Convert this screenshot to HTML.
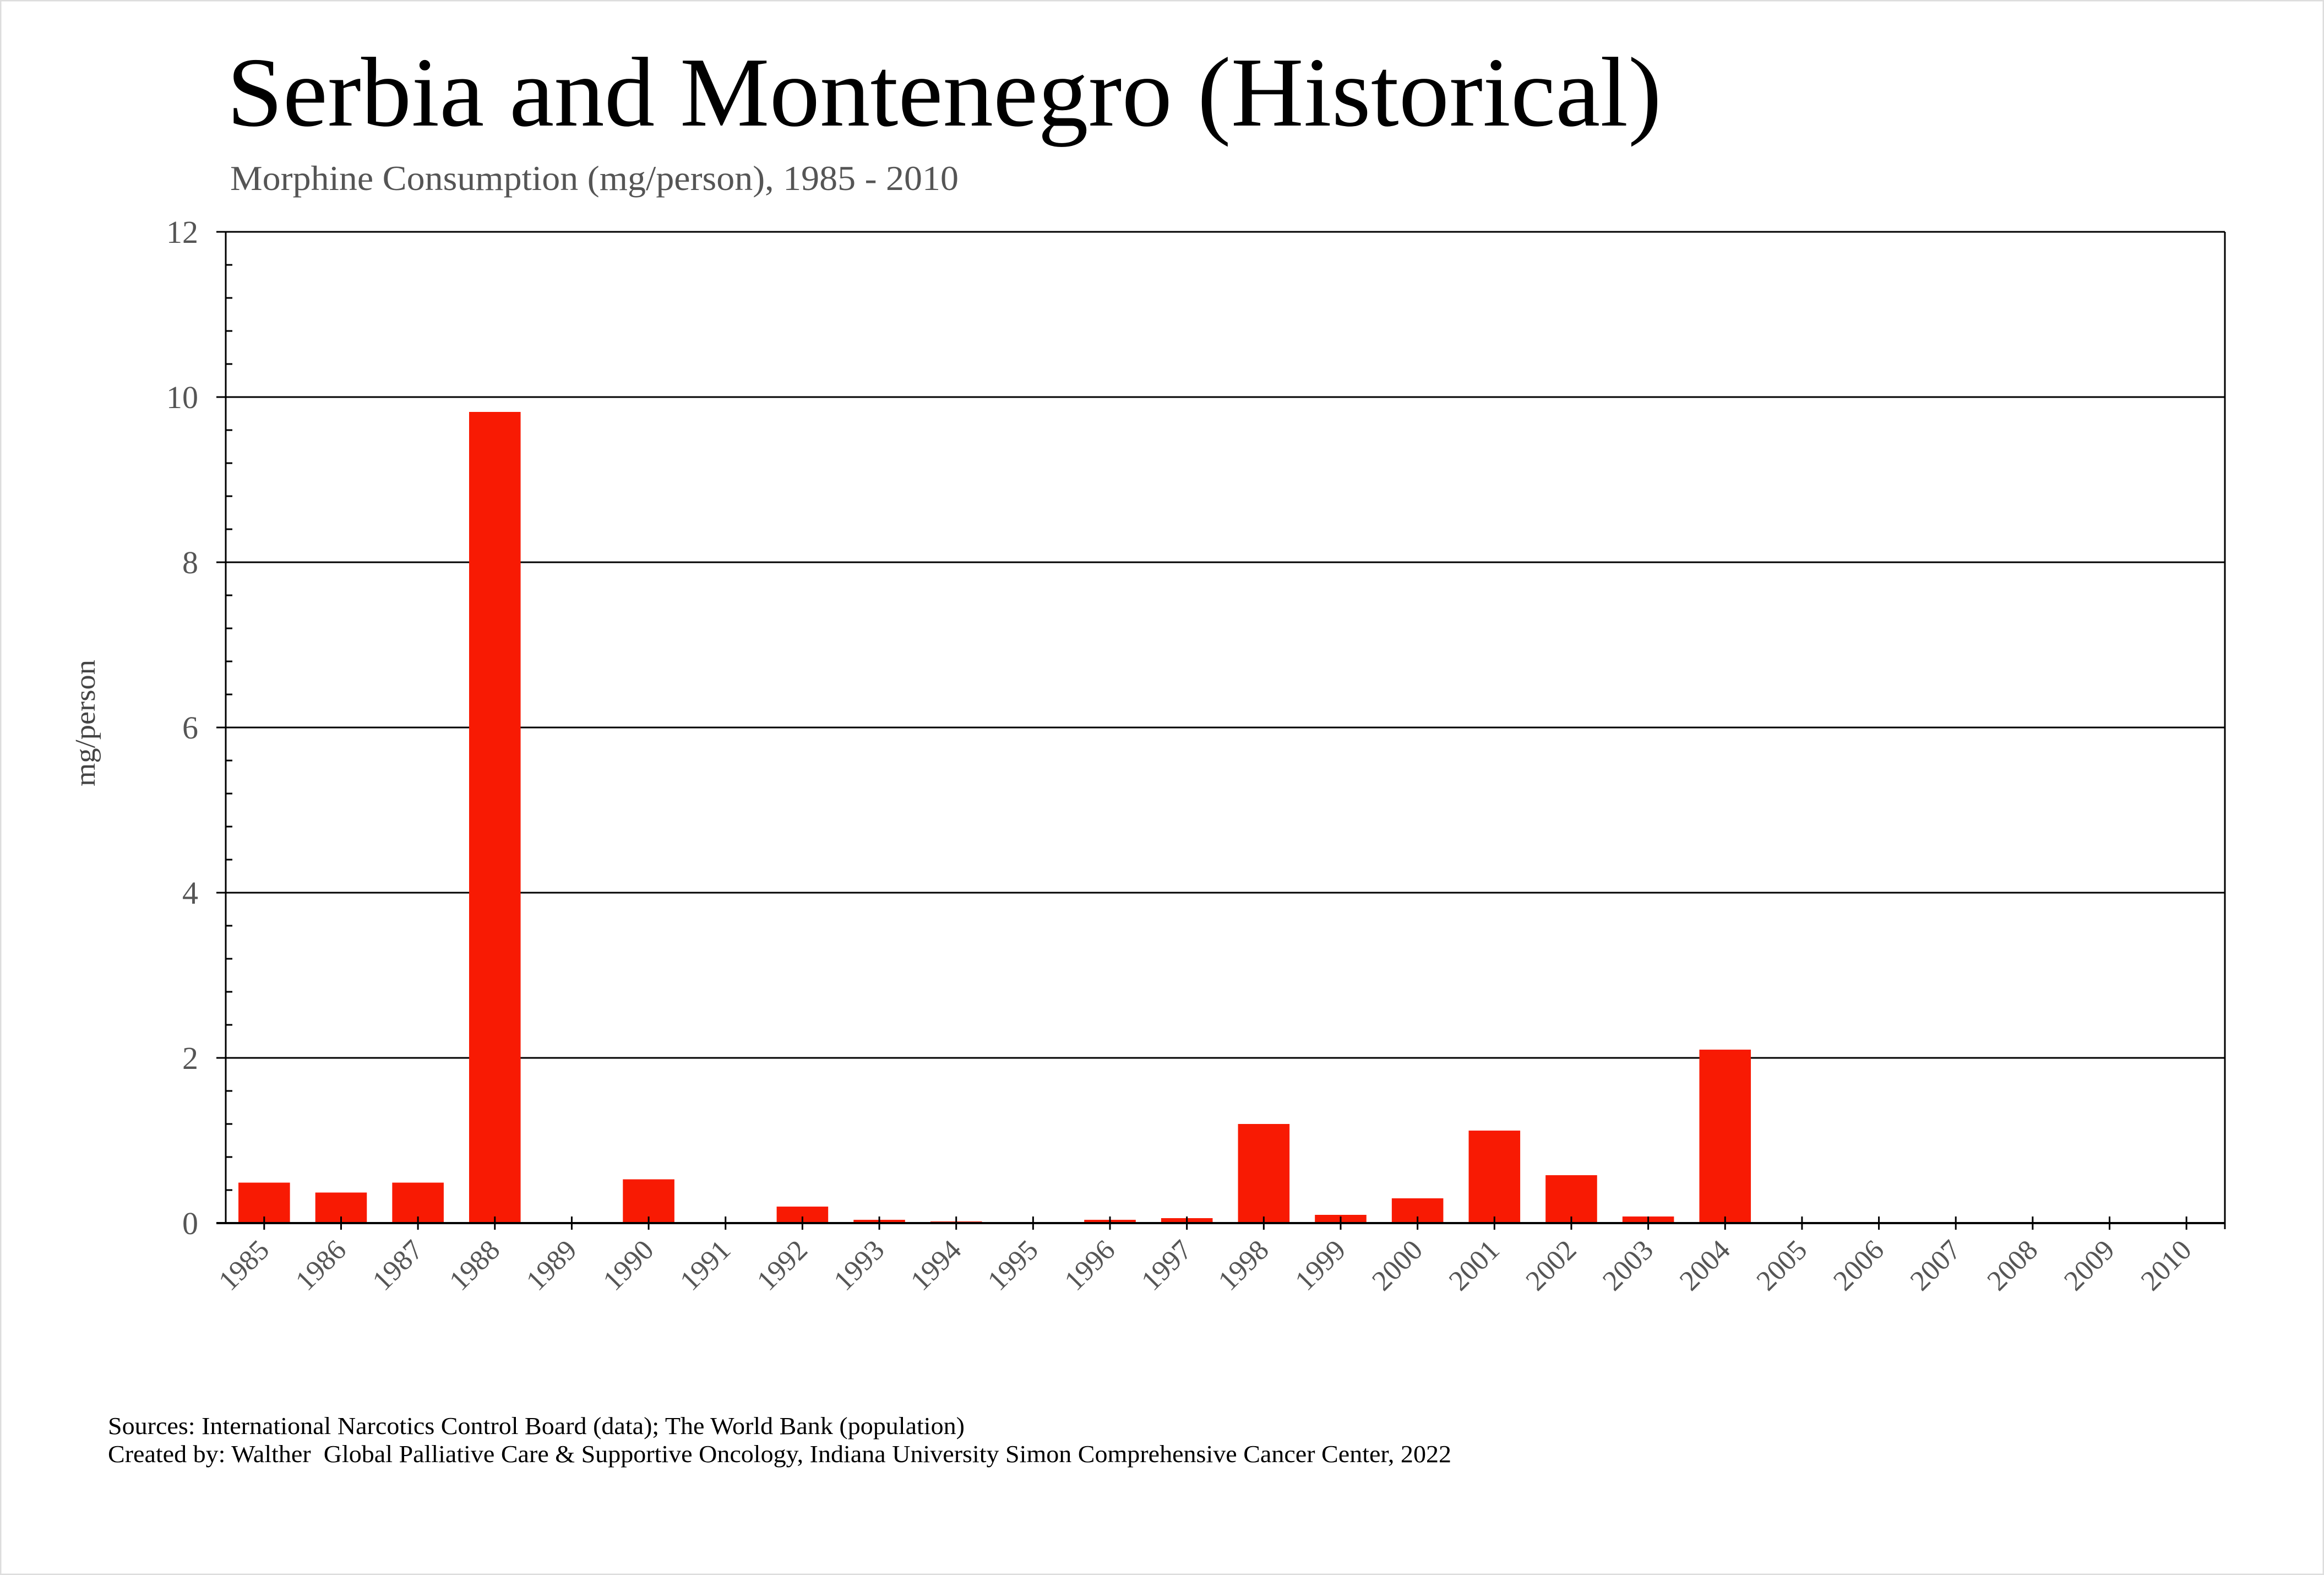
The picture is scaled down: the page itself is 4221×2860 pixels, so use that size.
<!DOCTYPE html>
<html><head><meta charset="utf-8"><style>
html,body{margin:0;padding:0;background:#fff}
svg{display:block;font-family:"Liberation Serif",serif}
</style></head><body>
<svg id="chart" width="4221" height="2860" viewBox="0 0 4221 2860" xmlns="http://www.w3.org/2000/svg">
<rect x="1" y="1" width="4219" height="2858" fill="#fff" stroke="#ddd" stroke-width="3"/>
<text x="412" y="228" font-size="180" fill="#000" textLength="2606" lengthAdjust="spacingAndGlyphs">Serbia and Montenegro (Historical)</text>
<text x="418" y="345" font-size="64" fill="#555" textLength="1323" lengthAdjust="spacingAndGlyphs">Morphine Consumption (mg/person), 1985 - 2010</text>
<text transform="translate(172,1313) rotate(-90)" text-anchor="middle" font-size="52" fill="#444" textLength="230" lengthAdjust="spacingAndGlyphs">mg/person</text>
<g id="grid"></g>
<g id="bars"></g>
<g id="axes"></g>
<text x="196" y="2604" font-size="44" fill="#000" textLength="1556" lengthAdjust="spacingAndGlyphs">Sources: International Narcotics Control Board (data); The World Bank (population)</text>
<text x="196" y="2655" font-size="44" fill="#000" xml:space="preserve" textLength="2440" lengthAdjust="spacingAndGlyphs">Created by: Walther  Global Palliative Care &amp; Supportive Oncology, Indiana University Simon Comprehensive Cancer Center, 2022</text>
</svg>
<script>
const years = ["1985","1986","1987","1988","1989","1990","1991","1992","1993","1994","1995","1996","1997","1998","1999","2000","2001","2002","2003","2004","2005","2006","2007","2008","2009","2010"];
const values = [0.49,0.37,0.49,9.82,0,0.53,0,0.2,0.04,0.02,0,0.04,0.06,1.2,0.1,0.3,1.12,0.58,0.08,2.1,0,0,0,0,0,0];
const yTicks = [0,2,4,6,8,10,12];
const yMax = 12;

const NS="http://www.w3.org/2000/svg";
const L=410,R=4041,T=421,B=2221;
const band=(R-L)/years.length;
const xc=i=>L+band*(i+0.5);
const y=v=>B-(v/yMax)*(B-T);
function mk(tag,attrs,parent){const e=document.createElementNS(NS,tag);for(const k in attrs)e.setAttribute(k,attrs[k]);parent.appendChild(e);return e;}
const grid=document.getElementById('grid'),bars=document.getElementById('bars'),axes=document.getElementById('axes');

yTicks.forEach(t=>{
  const g=mk('line',{x1:L-17,x2:R,y1:y(t),y2:y(t),stroke:'#000','stroke-width':3},grid);
  
  
  const tx=mk('text',{x:L-50,y:y(t)+20,'text-anchor':'end','font-size':58,fill:'#555'},axes);
  tx.textContent=t;
  
  
});
for(let v=0.4;v<yMax;v+=0.4){
  if(Math.abs(v/2-Math.round(v/2))<1e-6)continue;
  const m=mk('line',{x1:L,x2:L+12,y1:y(v),y2:y(v),stroke:'#000','stroke-width':3},axes);
  
  
}
values.forEach((v,i)=>{
  const w=band*0.67;
  const r=mk('rect',{x:xc(i)-w/2,y:y(v),width:w,height:B-y(v),fill:'#f81a03'},bars);
  
  
});
const ax=mk('line',{x1:L,x2:L,y1:T,y2:B,stroke:'#000','stroke-width':3},axes);


const ar=mk('line',{x1:R,x2:R,y1:T,y2:B+11,stroke:'#000','stroke-width':3},axes);


const xa=mk('line',{x1:L-17,x2:R,y1:B,y2:B,stroke:'#000','stroke-width':4},axes);


years.forEach((yr,i)=>{
  const t=mk('line',{x1:xc(i),x2:xc(i),y1:B-12,y2:B+12,stroke:'#000','stroke-width':3},axes);
  
  
  const lx=xc(i)+12,ly=B+52;
  const tx=mk('text',{x:lx,y:ly,'text-anchor':'end','font-size':52,fill:'#555',transform:`rotate(-45 ${lx} ${ly})`},axes);
  tx.textContent=yr;
  
  
});
</script>
</body></html>
